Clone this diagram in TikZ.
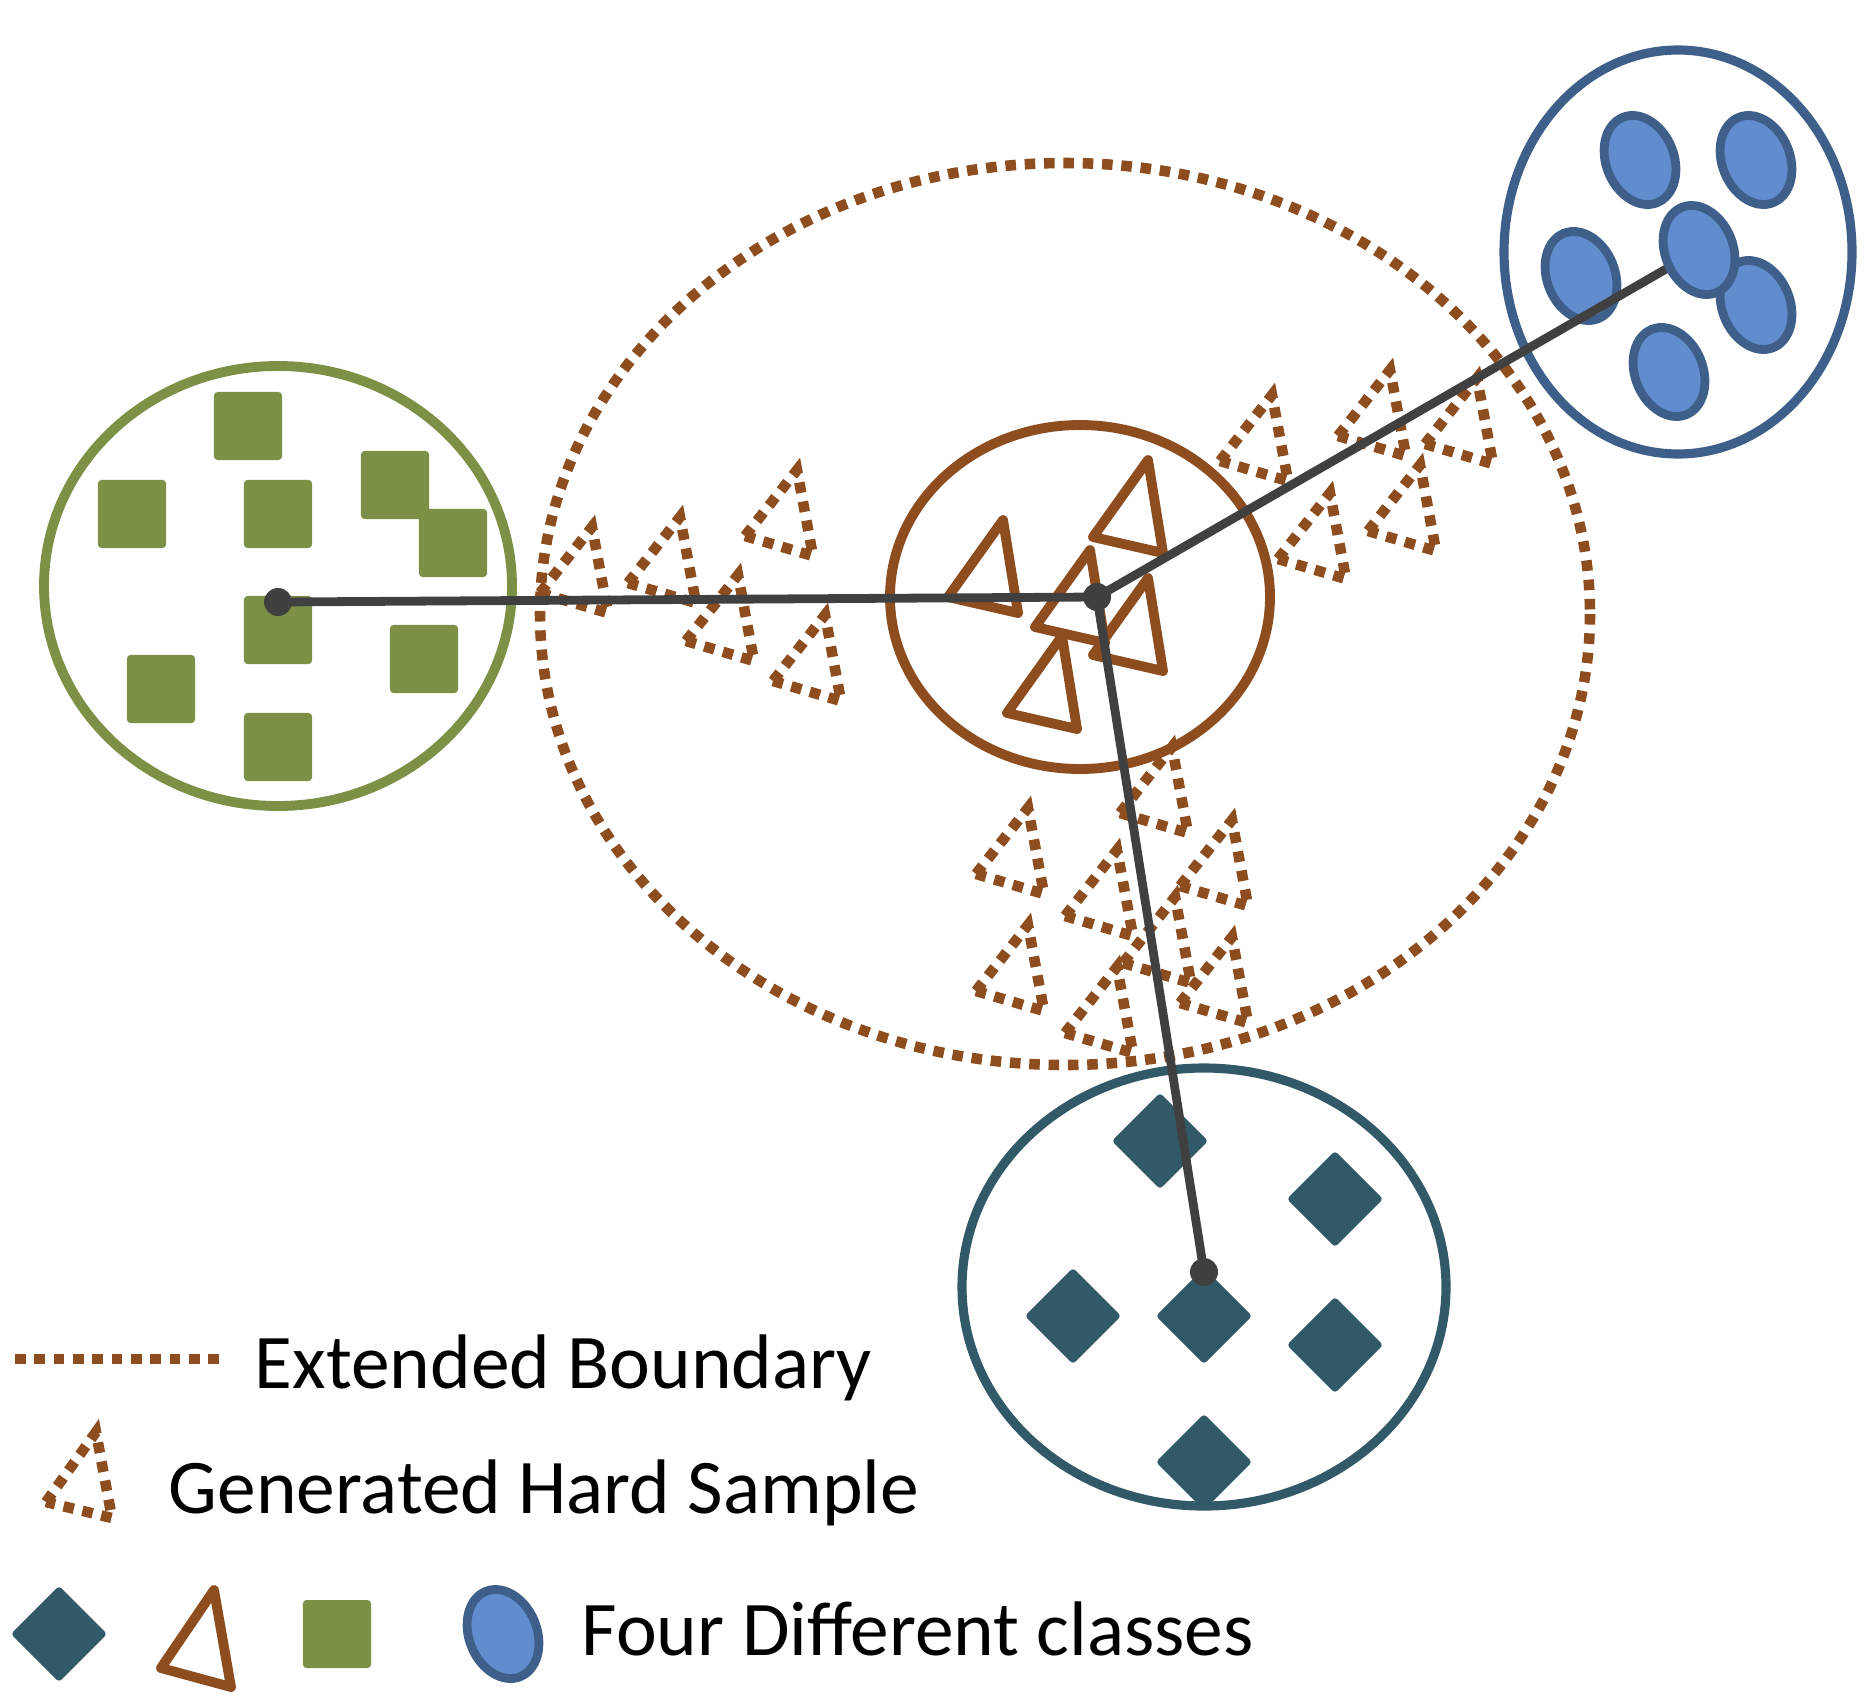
\documentclass[tikz,border=0pt]{standalone}
\usepackage{fontspec}
\setmainfont{Carlito}
\usepackage{tikz}
\usetikzlibrary{positioning}
\definecolor{bdbrown}{RGB}{141, 77, 31}
\definecolor{clsgreen}{RGB}{125, 145, 70}
\definecolor{clsteal}{RGB}{49, 89, 104}
\definecolor{clsblue}{RGB}{97, 141, 207}
\definecolor{blueline}{RGB}{62, 95, 138}
\definecolor{linkgray}{RGB}{64, 64, 64}

\begin{document}
\begin{tikzpicture}[
    x=0.01cm, y=-0.01cm,
    dotline/.style={bdbrown, line width=3pt, dash pattern=on 3pt off 2.5pt},
    tri/.style={bdbrown, line width=2.8pt, line join=round},
    sqbox/.style={fill=clsgreen, inner sep=0pt, minimum size=0.68cm, rounded corners=1pt},
    dmbox/.style={sqbox, fill=clsteal, rotate=45},
    blob/.style={fill=clsblue, draw=blueline, line width=2.5pt},
    link/.style={linkgray, line width=2.5pt},
    legtext/.style={anchor=base west, inner sep=0pt, font=\fontsize{22pt}{26pt}\selectfont},
]
    \useasboundingbox (0,0) rectangle (1864,1706);

    % --- extended boundary and generated hard samples ---
    \draw[dotline] (1065,614) ellipse [x radius=525, y radius=451];
    \foreach \x/\y in {540/593, 628/583, 745/536, 686/641, 773/681,
                       1220/461, 1338/436, 1425/444, 1278/559, 1368/531,
                       1120/813, 976/874, 1065/916, 1180/886, 976/991, 1123/963, 1065/1033, 1180/1003}
        \draw[dotline] (\x,\y) -- ++(52,-66) -- ++(16,86) -- cycle;

    % --- green class ---
    \draw[clsgreen, line width=2.8pt] (278,586) ellipse [x radius=234, y radius=220];
    \foreach \x/\y in {248/426, 132/514, 278/514, 395/485, 453/543, 278/630, 424/659, 161/689, 278/747}
        \node[sqbox] at (\x,\y) {};
    \coordinate (gdot) at (278,602);

    % --- brown class ---
    \draw[bdbrown, line width=2.8pt] (1080,597) ellipse [x radius=190, y radius=172];
    \foreach \x/\y in {948/597, 1093/537, 1035/627, 1093/655, 1007/713}
        \draw[tri] (\x,\y) -- ++(55,-77) -- ++(15,93) -- cycle;
    \coordinate (ctr) at (1097,597);

    % --- teal class ---
    \draw[clsteal, line width=2.6pt] (1204,1287) ellipse [x radius=242, y radius=219];
    \foreach \x/\y in {1160/1141, 1335/1199, 1073/1316, 1204/1316, 1335/1345, 1204/1462}
        \node[dmbox] at (\x,\y) {};
    \coordinate (tdot) at (1204,1272);

    % --- blue class ---
    \draw[blueline, line width=2.6pt] (1678,252) ellipse [x radius=174, y radius=202];
    \foreach \x/\y in {1640/160, 1756/160, 1581/276, 1756/305, 1669/372}
        \draw[blob, rotate around={22:(\x,\y)}] (\x,\y) ellipse [x radius=34, y radius=46];
    \coordinate (bdot) at (1699,250);

    % --- links to the class centres ---
    \draw[link] (ctr) -- (gdot);
    \draw[link] (ctr) -- (tdot);
    \draw[link] (ctr) -- (bdot);
    \draw[blob, rotate around={22:(bdot)}] (bdot) ellipse [x radius=34, y radius=46];
    \foreach \p in {gdot, ctr, tdot}
        \fill[linkgray] (\p) circle (14);

    % --- legend ---
    \draw[dotline] (15,1359) -- (222,1359);
    \node[legtext] (lbound) at (254,1388) {Extended Boundary};
    \draw[dotline] (46,1502) -- ++(50,-70) -- ++(16,86) -- cycle;
    \node[legtext] (lhard) at (168,1513) {Generated Hard Sample};
    \node[dmbox] (ldiam) at (59,1634) {};
    \draw[tri] (161,1668) -- ++(53,-78) -- ++(17,97) -- cycle;
    \node[sqbox] (lsq) at (337,1634) {};
    \draw[blob, rotate around={22:(503,1634)}] (503,1634) ellipse [x radius=34, y radius=46];
    \node[legtext] (lclass) at (581,1655) {Four Different classes};
\end{tikzpicture}
\end{document}
